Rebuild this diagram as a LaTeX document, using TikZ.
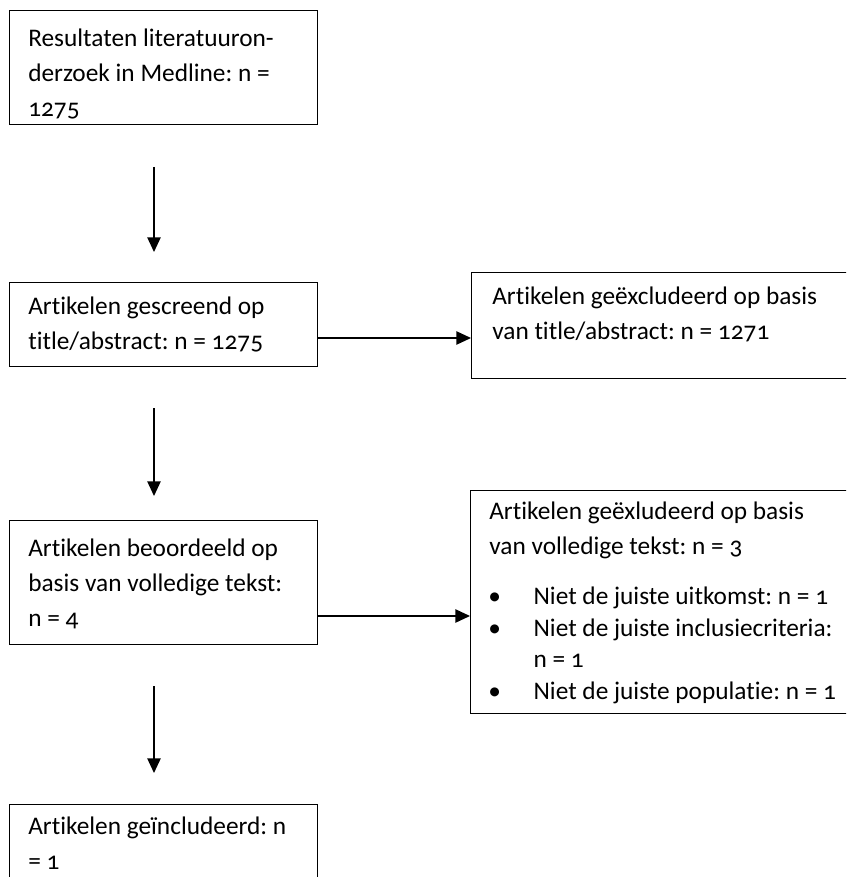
\documentclass[tikz,border=0pt]{standalone}
\usepackage{fontspec}
\setmainfont{Carlito}[Numbers=OldStyle, Ligatures={NoCommon}]
\usetikzlibrary{arrows.meta}
\frenchspacing
\begin{document}
\begin{tikzpicture}[x=0.75pt,y=-0.75pt,
  box/.style={draw=black, line width=0.8pt, rectangle, inner sep=0pt, anchor=north west},
  txt/.style={anchor=north west, inner sep=0pt, align=left, font=\fontsize{19pt}{26.25pt}\selectfont\frenchspacing},
  btxt/.style={anchor=north west, inner sep=0pt, align=left, font=\fontsize{19pt}{23.75pt}\selectfont\frenchspacing},
  arr/.style={line width=1.1pt, -{Triangle[width=10pt,length=11pt]}}]
\clip (0,0) rectangle (846,877);
\fill[white] (0,0) rectangle (846,877);
% boxes
\node[box, minimum width=231pt, minimum height=85.5pt] (b1) at (9,10) {};
\node[box, minimum width=231pt, minimum height=63pt] (b2) at (9,282) {};
\node[box, minimum width=291.75pt, minimum height=79.5pt] (b3) at (471,272) {};
\node[box, minimum width=231pt, minimum height=93pt] (b4) at (9,520) {};
\node[box, minimum width=292.5pt, minimum height=167.25pt] (b5) at (470,490) {};
\node[box, minimum width=231pt, minimum height=64.5pt] (b6) at (9,804) {};
% texts
\node[txt] (t1) at (28,21.5) {\strut Resultaten literatuuron-\\derzoek in Medline: n =\\1275};
\node[txt] (t2) at (28,289.5) {\strut Artikelen gescreend op\\title/abstract: n = 1275};
\node[txt] (t3) at (492,280) {\strut Artikelen geëxcludeerd op basis\\van title/abstract: n = 1271};
\node[txt] (t4) at (28,531.5) {\strut Artikelen beoordeeld op\\basis van volledige tekst:\\n = 4};
\node[txt] (t5) at (489,494.5) {\strut Artikelen geëxludeerd op basis\\van volledige tekst: n = 3};
\node[btxt] (t5b) at (488,582) {\strut\makebox[34pt][l]{\textbullet}Niet de juiste uitkomst: n = 1\\
  \makebox[34pt][l]{\textbullet}Niet de juiste inclusiecriteria:\\
  \hspace*{34pt}n = 1\\
  \makebox[34pt][l]{\textbullet}Niet de juiste populatie: n = 1};
\node[txt] (t6) at (28,809.5) {\strut Artikelen geïncludeerd: n\\= 1};
% connectors
\coordinate (a1s) at (154,167); \coordinate (a1e) at (154,252);
\coordinate (a2s) at (154,408); \coordinate (a2e) at (154,496);
\coordinate (a3s) at (154,686); \coordinate (a3e) at (154,773);
\coordinate (h1y) at (0,338); \coordinate (h2y) at (0,616);
\draw[arr] (a1s) -- (a1e);
\draw[arr] (a2s) -- (a2e);
\draw[arr] (a3s) -- (a3e);
\draw[arr] (b2.east |- h1y) -- (b3.west |- h1y);
\draw[arr] (b4.east |- h2y) -- (b5.west |- h2y);
\end{tikzpicture}
\end{document}
